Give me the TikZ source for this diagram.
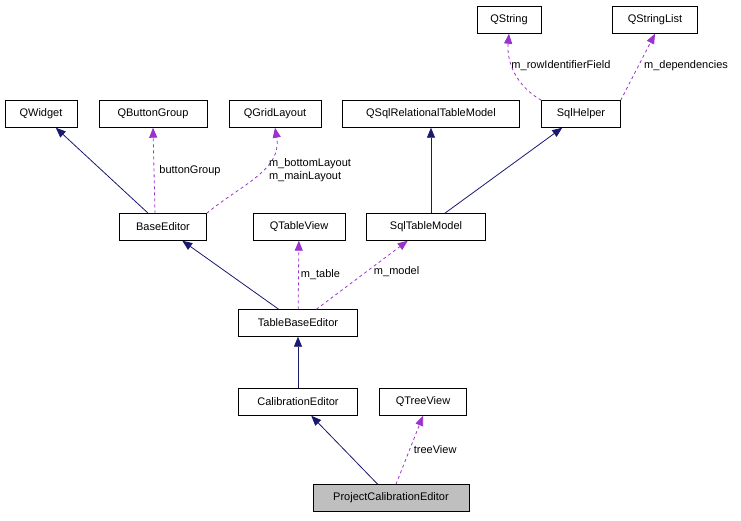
\documentclass[tikz,border=0pt]{standalone}
\usepackage{fontspec}
\setmainfont{Liberation Sans}
\usetikzlibrary{arrows.meta}
\begin{document}
\begin{tikzpicture}[x=1pt,y=-1pt,
 box/.style={draw,thin,minimum height=27pt,inner xsep=4pt,font=\fontsize{11}{12.5}\selectfont,anchor=center},
 inh/.style={draw={rgb,255:red,25;green,25;blue,112},thick,-{Triangle[width=8pt,length=10pt]}},
 use/.style={draw={rgb,255:red,154;green,50;blue,205},thick,dashed,-{Triangle[width=8pt,length=10pt]}},
 lab/.style={font=\fontsize{11}{12.5}\selectfont,inner sep=1pt,align=left}]
\useasboundingbox (0,0) rectangle (741,520);
\node[box,minimum width=64pt] (qs) at (509,20) {QString};
\node[box,minimum width=85pt] (qsl) at (655,20) {QStringList};
\node[box,minimum width=72pt] (qw) at (41,114) {QWidget};
\node[box,minimum width=108pt] (qbg) at (153,114) {QButtonGroup};
\node[box,minimum width=92pt] (qgl) at (275,114) {QGridLayout};
\node[box,minimum width=177pt] (qsr) at (431,114) {QSqlRelationalTableModel};
\node[box,minimum width=79pt] (sh) at (581,114) {SqlHelper};
\node[box,minimum width=87pt] (be) at (163,227) {BaseEditor};
\node[box,minimum width=92pt] (qtv) at (299,227) {QTableView};
\node[box,minimum width=119pt] (stm) at (426,227) {SqlTableModel};
\node[box,minimum width=119pt] (tbe) at (298,323) {TableBaseEditor};
\node[box,minimum width=119pt] (ce) at (298,402) {CalibrationEditor};
\node[box,minimum width=87pt] (qtr) at (423,402) {QTreeView};
\node[box,minimum width=156pt,fill={rgb,255:red,191;green,191;blue,191}] (pce) at (391,498) {ProjectCalibrationEditor};

\draw[inh] (be) -- (qw);
\draw[use] (be.north) ++(-8,0) -- (qbg.south) node[lab,pos=0.5,right=4pt] {buttonGroup};
\draw[use] (be.north east) to[out=40,in=-80] (qgl.south) ;
\node[lab] at (310,170) {m\_bottomLayout\\m\_mainLayout};
\draw[inh] (tbe) -- (be);
\draw[use] (tbe) -- (qtv) node[lab,pos=0.5,right=1pt] {m\_table};
\draw[use] (tbe) -- (stm) node[lab,pos=0.55,right=6pt] {m\_model};
\draw[inh] (stm.north -| qsr.south) -- (qsr.south);
\draw[inh] (stm) -- (sh);
\draw[use] (sh.north west) to[out=150,in=-95] (qs.south);
\node[lab] at (561,66) {m\_rowIdentifierField};
\draw[use] (sh.north east) -- (qsl.south);
\node[lab] at (686,66) {m\_dependencies};
\draw[inh] (ce) -- (tbe);
\draw[inh] (pce) -- (ce);
\draw[use] (pce.north) ++(5,0) -- (qtr.south) node[lab,pos=0.5,right=3pt] {treeView};
\end{tikzpicture}
\end{document}
